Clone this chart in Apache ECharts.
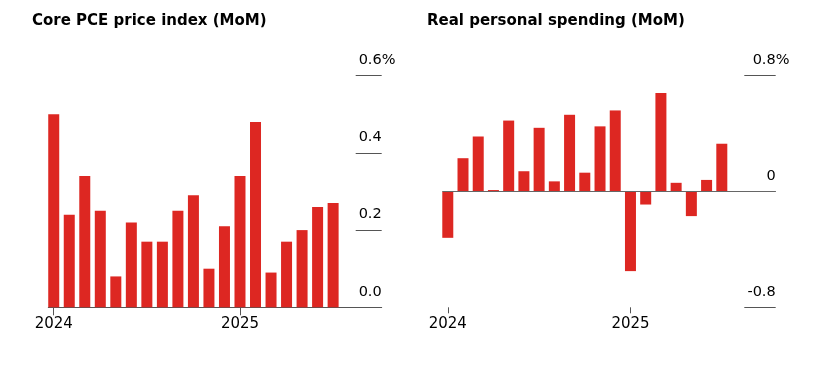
<!DOCTYPE html>
<html>
<head>
<meta charset="utf-8">
<script src="https://cdn.jsdelivr.net/npm/echarts@6/dist/echarts.min.js"></script>
<style>
    html, body { margin: 0; padding: 0; background: #fff; }
    #chart { width: 825px; height: 377px; }
</style>
</head>
<body>
<div id="chart"></div>
<script>
// 月份 (2024-01 ~ 2025-07)
const months = ['2024-01', '2024-02', '2024-03', '2024-04', '2024-05', '2024-06', '2024-07', '2024-08',
    '2024-09', '2024-10', '2024-11', '2024-12', '2025-01', '2025-02', '2025-03', '2025-04',
    '2025-05', '2025-06', '2025-07']

// 核心PCE 环比 (%)
const corePce = [0.50, 0.24, 0.34, 0.25, 0.08, 0.22, 0.17, 0.17, 0.25, 0.29, 0.10, 0.21,
    0.34, 0.48, 0.09, 0.17, 0.20, 0.26, 0.27]

// 实际个人消费 环比 (%)
const realSpending = [-0.32, 0.23, 0.38, 0.01, 0.49, 0.14, 0.44, 0.07, 0.53, 0.13, 0.45, 0.56,
    -0.55, -0.09, 0.68, 0.06, -0.17, 0.08, 0.33]

// 刻度
const pceTicks = [0, 0.2, 0.4, 0.6]
const spendTicks = [-0.8, 0, 0.8]

const titles = ['Core PCE price index (MoM)', 'Real personal spending (MoM)']

// 年份标签所在位置 (每年1月)
const yearIdx = months.map((m, i) => m.endsWith('-01') ? i : -1).filter(i => i >= 0)

const FONT = '"DejaVu Sans", sans-serif'
const RED = '#dd2722'
const LINE = '#555'

function xAxisOf(idx, min, max, showLine) {
    return {
        type: 'value',
        gridIndex: idx,
        min: min,
        max: max,
        axisLine: { show: showLine, onZero: false, lineStyle: { color: LINE, width: 1 } },
        axisTick: { show: true, customValues: yearIdx, length: showLine ? 8 : 6, lineStyle: { color: LINE } },
        axisLabel: {
            customValues: yearIdx,
            formatter: v => months[Math.round(v)].slice(0, 4),
            color: '#000', fontSize: 15, fontFamily: FONT, margin: 9
        },
        splitLine: { show: false }
    }
}

function yAxisOf(idx, ticks, fmt, tickLen) {
    return {
        type: 'value',
        gridIndex: idx,
        position: 'right',
        min: ticks[0],
        max: ticks[ticks.length - 1],
        interval: ticks[1] - ticks[0],
        // 顶部刻度后面的 %
        name: '%',
        nameLocation: 'end',
        nameGap: 0,
        nameMoveOverlap: false,
        nameTextStyle: {
            color: '#000', fontSize: 14.5, fontFamily: FONT,
            align: 'left', verticalAlign: 'bottom', padding: [0, 0, 8, 0]
        },
        axisLine: { show: false, onZero: false },
        axisTick: { show: true, inside: true, length: tickLen, lineStyle: { color: LINE } },
        axisLabel: {
            inside: true,
            margin: 0,
            align: 'right',
            verticalAlign: 'bottom',
            padding: [0, 0, 8, 0],
            color: '#000', fontSize: 14.5, fontFamily: FONT,
            formatter: fmt
        },
        splitLine: { show: false }
    }
}

const myChart = echarts.init(document.getElementById('chart'))

const option = {
    animation: false,
    backgroundColor: '#fff',
    title: [
        { text: titles[0], left: 32, top: 14, padding: 0,
          textStyle: { fontSize: 15, fontWeight: 'bold', color: '#000', fontFamily: FONT } },
        { text: titles[1], left: 427, top: 14, padding: 0,
          textStyle: { fontSize: 15, fontWeight: 'bold', color: '#000', fontFamily: FONT } }
    ],
    grid: [
        { left: 48.3, right: 443.3, top: 75.7, bottom: 69.7 },
        { left: 442.3, right: 49.3, top: 75.7, bottom: 69.7 }
    ],
    xAxis: [
        xAxisOf(0, -0.35, 21.13, true),
        xAxisOf(1, -0.36, 21.54, false)
    ],
    yAxis: [
        yAxisOf(0, pceTicks, v => v.toFixed(1), 26),
        yAxisOf(1, spendTicks, v => v === 0 ? '0' : v.toFixed(1), 31.4)
    ],
    series: [
        {
            type: 'bar',
            xAxisIndex: 0, yAxisIndex: 0,
            barWidth: 11,
            itemStyle: { color: RED },
            data: corePce.map((v, i) => [i, v])
        },
        {
            type: 'bar',
            xAxisIndex: 1, yAxisIndex: 1,
            barWidth: 11,
            itemStyle: { color: RED },
            data: realSpending.map((v, i) => [i, v]),
            markLine: {
                silent: true,
                symbol: ['none', 'none'],
                label: { show: false },
                lineStyle: { color: '#666', type: 'solid', width: 1 },
                data: [{ yAxis: 0 }]
            }
        }
    ]
}

myChart.setOption(option)
</script>
</body>
</html>
